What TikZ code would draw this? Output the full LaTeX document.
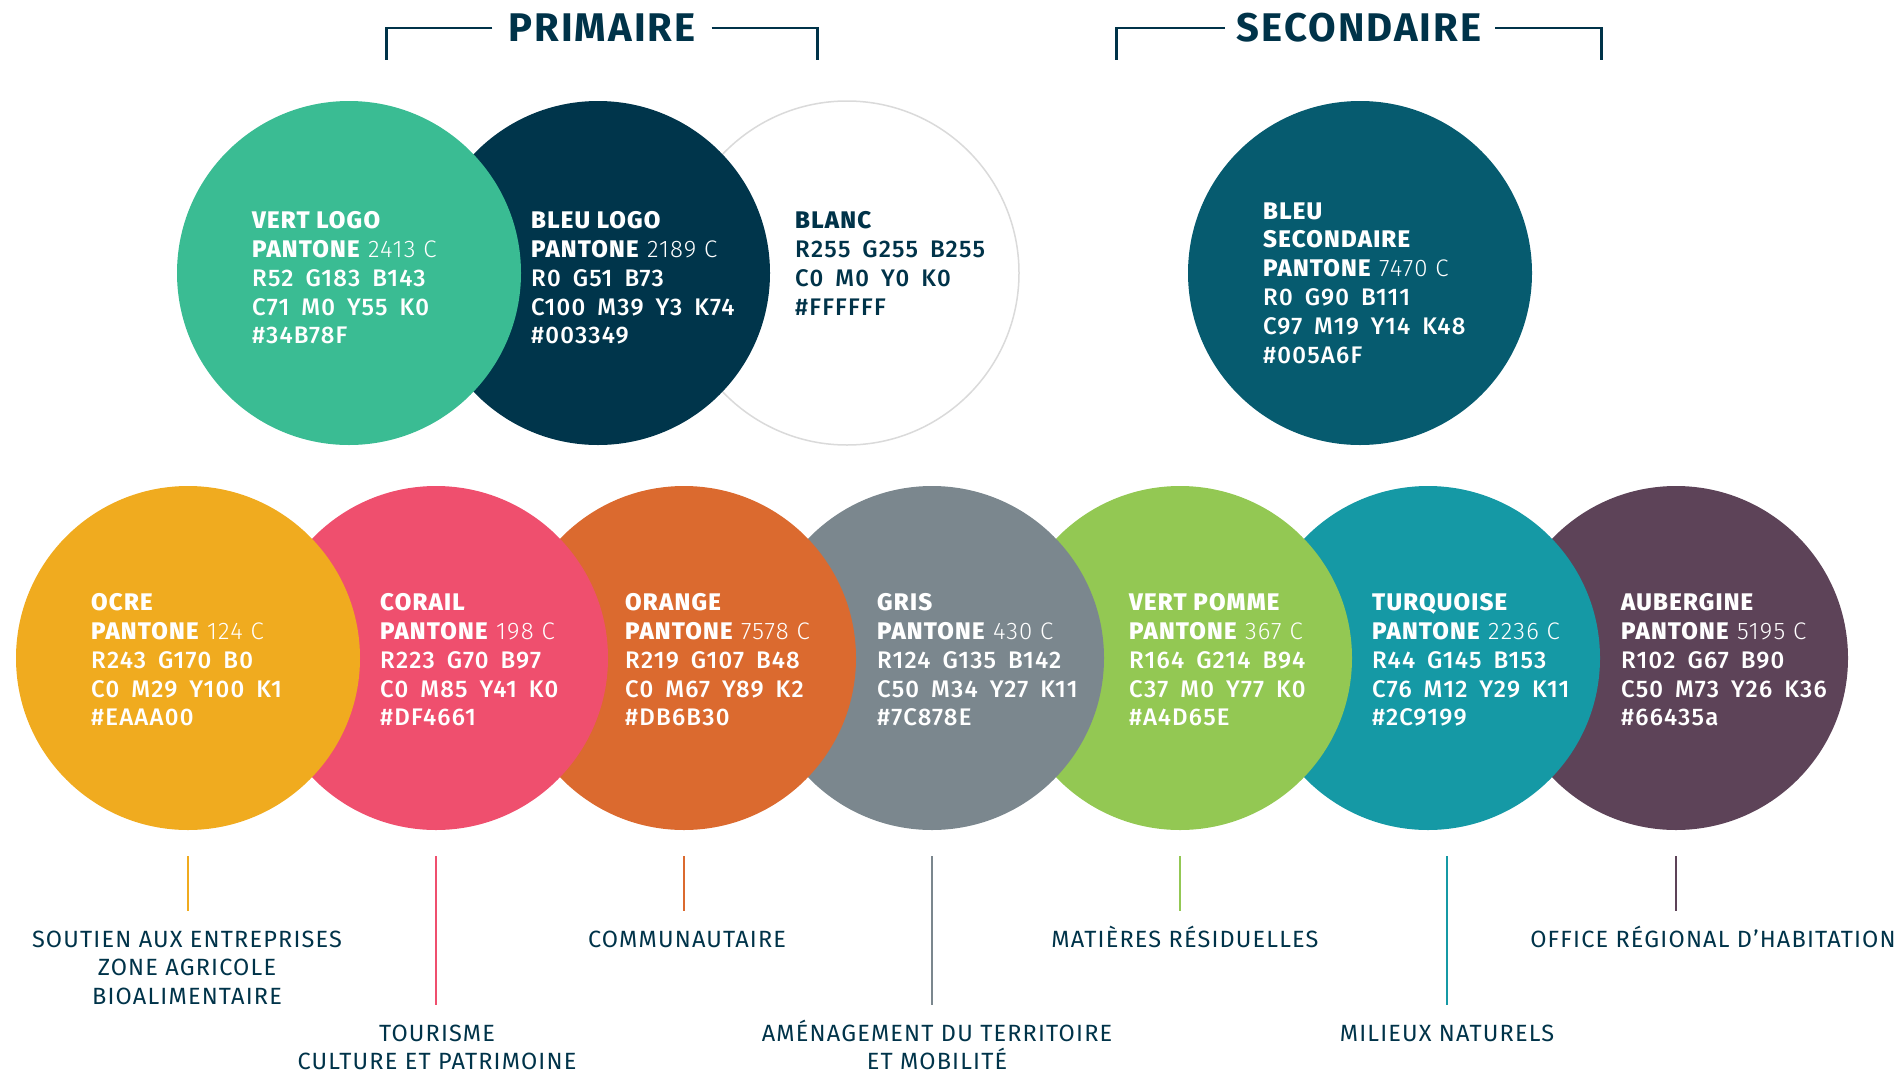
\documentclass[tikz,border=0pt]{standalone}
\usepackage{fontspec}
\setmainfont{Fira Sans}[LetterSpace=5]
\newfontfamily\moyen{Fira Sans Medium}[LetterSpace=5]
\newfontfamily\leger{Fira Sans Light}[LetterSpace=5]
\usetikzlibrary{positioning}

\definecolor{navy}{HTML}{003349}
\definecolor{vertlogo}{HTML}{3ABC93}
\definecolor{bleulogo}{HTML}{00354B}
\definecolor{bleusec}{HTML}{065B6F}
\definecolor{contour}{HTML}{DADADA}
\definecolor{ocre}{HTML}{F0AB1F}
\definecolor{corail}{HTML}{EF4F6E}
\definecolor{orangeo}{HTML}{DB6A2F}
\definecolor{gris}{HTML}{7B878E}
\definecolor{vertpomme}{HTML}{93C853}
\definecolor{turquoise}{HTML}{1599A5}
\definecolor{aubergine}{HTML}{5D4358}

\newcommand\ecart{\hspace{.5em}}
\newcommand\pantone[1]{\textbf{PANTONE} {\leger #1}}
% hauteur fixe de la premiere ligne des secteurs
\newcommand\haut{\rule{0pt}{24pt}}

\begin{document}
\begin{tikzpicture}[x=1pt,y=-1pt,
  pastille/.style={circle,fill=#1,minimum size=344pt,inner sep=0pt,outer sep=0pt},
  info/.style={anchor=west,align=left,inner sep=0pt,text=white,
    font=\fontsize{24}{28.8}\selectfont\moyen},
  theme/.style={anchor=north,align=center,inner sep=0pt,text=navy,
    font=\fontsize{23.5}{28.5}\selectfont},
  tige/.style={draw=#1,line width=2pt,shorten <=26pt,shorten >=12pt},
  titre/.style={text=navy,inner sep=0pt,font=\fontsize{40}{40}\selectfont\bfseries},
  crochet/.style={draw=navy,line width=2.5pt}]

\useasboundingbox (0,0) rectangle (1902,1076);

% couleurs primaires (de droite a gauche pour le chevauchement)
\node [pastille=white,draw=contour,line width=1.5pt] (blanc) at (847,273) {};
\node [pastille=bleulogo,left=-95pt of blanc] (bleu-logo) {};
\node [pastille=vertlogo,left=-95pt of bleu-logo] (vert-logo) {};

\node [info] (vert-logo-txt) at ([xshift=-97pt,yshift=-5pt]vert-logo.center)
  {\textbf{VERT LOGO}\\\pantone{2413 C}\\R52\ecart G183\ecart B143\\C71\ecart M0\ecart Y55\ecart K0\\\#34B78F};
\node [info] (bleu-logo-txt) at ([xshift=-67pt,yshift=-5pt]bleu-logo.center)
  {\textbf{BLEU LOGO}\\\pantone{2189 C}\\R0\ecart G51\ecart B73\\C100\ecart M39\ecart Y3\ecart K74\\\#003349};
\node [info,text=navy,yshift=14.4pt] (blanc-txt) at ([xshift=-52pt,yshift=-5pt]blanc.center)
  {\textbf{BLANC}\\R255\ecart G255\ecart B255\\C0\ecart M0\ecart Y0\ecart K0\\\#FFFFFF};

% couleur secondaire
\node [pastille=bleusec] (bleu-sec) at (1360,273) {};
\node [info] (bleu-sec-txt) at ([xshift=-97pt,yshift=-10pt]bleu-sec.center)
  {\textbf{BLEU}\\\textbf{SECONDAIRE}\\\pantone{7470 C}\\R0\ecart G90\ecart B111\\C97\ecart M19\ecart Y14\ecart K48\\\#005A6F};

% titres et crochets
\node [titre] (primaire) at (602,28) {PRIMAIRE};
\node [titre] (secondaire) at (1359,28) {SECONDAIRE};
\draw [crochet] ([xshift=-16pt]primaire.west) -| ++(-106,32);
\draw [crochet] ([xshift=16pt]primaire.east) -| ++(106,32);
\draw [crochet] ([xshift=-12pt]secondaire.west) -| ++(-108,32);
\draw [crochet] ([xshift=14pt]secondaire.east) -| ++(106,32);

% couleurs thematiques
\node [pastille=aubergine] (aubergine) at (1676,658) {};
\node [pastille=turquoise,left=-96pt of aubergine] (turquoise) {};
\node [pastille=vertpomme,left=-96pt of turquoise] (vert-pomme) {};
\node [pastille=gris,left=-96pt of vert-pomme] (gris) {};
\node [pastille=orangeo,left=-96pt of gris] (orange) {};
\node [pastille=corail,left=-96pt of orange] (corail) {};
\node [pastille=ocre,left=-96pt of corail] (ocre) {};

\node [info] (ocre-txt) at ([xshift=-97pt,yshift=-2pt]ocre.center)
  {\textbf{OCRE}\\\pantone{124 C}\\R243\ecart G170\ecart B0\\C0\ecart M29\ecart Y100\ecart K1\\\#EAAA00};
\node [info] (corail-txt) at ([xshift=-56pt,yshift=-2pt]corail.center)
  {\textbf{CORAIL}\\\pantone{198 C}\\R223\ecart G70\ecart B97\\C0\ecart M85\ecart Y41\ecart K0\\\#DF4661};
\node [info] (orange-txt) at ([xshift=-59pt,yshift=-2pt]orange.center)
  {\textbf{ORANGE}\\\pantone{7578 C}\\R219\ecart G107\ecart B48\\C0\ecart M67\ecart Y89\ecart K2\\\#DB6B30};
\node [info] (gris-txt) at ([xshift=-55pt,yshift=-2pt]gris.center)
  {\textbf{GRIS}\\\pantone{430 C}\\R124\ecart G135\ecart B142\\C50\ecart M34\ecart Y27\ecart K11\\\#7C878E};
\node [info] (vert-pomme-txt) at ([xshift=-51pt,yshift=-2pt]vert-pomme.center)
  {\textbf{VERT POMME}\\\pantone{367 C}\\R164\ecart G214\ecart B94\\C37\ecart M0\ecart Y77\ecart K0\\\#A4D65E};
\node [info] (turquoise-txt) at ([xshift=-56pt,yshift=-2pt]turquoise.center)
  {\textbf{TURQUOISE}\\\pantone{2236 C}\\R44\ecart G145\ecart B153\\C76\ecart M12\ecart Y29\ecart K11\\\#2C9199};
\node [info] (aubergine-txt) at ([xshift=-55pt,yshift=-2pt]aubergine.center)
  {\textbf{AUBERGINE}\\\pantone{5195 C}\\R102\ecart G67\ecart B90\\C50\ecart M73\ecart Y26\ecart K36\\\#66435a};

% secteurs
\node [theme] (lbl-ocre) at (187,923) {\haut SOUTIEN AUX ENTREPRISES\\ZONE AGRICOLE\\BIOALIMENTAIRE};
\node [theme] (lbl-corail) at (437,1017) {\haut TOURISME\\CULTURE ET PATRIMOINE};
\node [theme] (lbl-orange) at (687,923) {\haut COMMUNAUTAIRE};
\node [theme] (lbl-gris) at (937,1017) {\haut AMÉNAGEMENT DU TERRITOIRE\\ET MOBILITÉ};
\node [theme] (lbl-vert-pomme) at (1185,923) {\haut MATIÈRES RÉSIDUELLES};
\node [theme] (lbl-turquoise) at (1447,1017) {\haut MILIEUX NATURELS};
\node [theme] (lbl-aubergine) at (1713,923) {\haut OFFICE RÉGIONAL D’HABITATION};

\draw [tige=ocre] (ocre.south) -- (ocre.south |- lbl-ocre.north);
\draw [tige=corail] (corail.south) -- (corail.south |- lbl-corail.north);
\draw [tige=orangeo] (orange.south) -- (orange.south |- lbl-orange.north);
\draw [tige=gris] (gris.south) -- (gris.south |- lbl-gris.north);
\draw [tige=vertpomme] (vert-pomme.south) -- (vert-pomme.south |- lbl-vert-pomme.north);
\draw [tige=turquoise] (lbl-turquoise.north |- turquoise.south) -- (lbl-turquoise.north);
\draw [tige=aubergine] (aubergine.south) -- (aubergine.south |- lbl-aubergine.north);
\end{tikzpicture}
\end{document}
